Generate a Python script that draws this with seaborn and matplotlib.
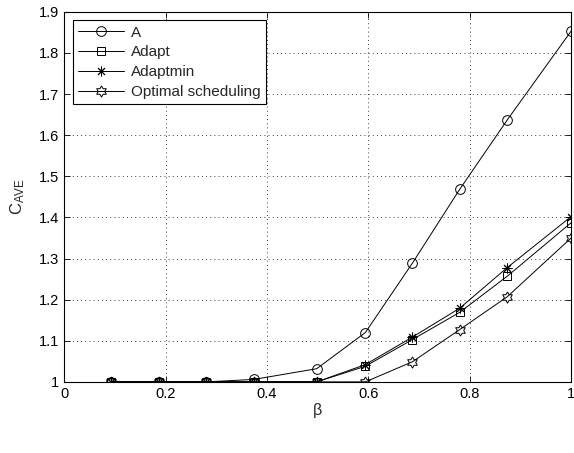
import numpy as np
import pandas as pd
import matplotlib
matplotlib.use("Agg")
import matplotlib.pyplot as plt
import seaborn as sns

beta = [0.093, 0.187, 0.28, 0.374, 0.498, 0.594, 0.687, 0.78, 0.874, 1.0]
series_names = ["A", "Adapt", "Adaptmin", "Optimal scheduling"]
vals_A = [1.0, 1.0, 1.0, 1.006, 1.032, 1.12, 1.289, 1.468, 1.637, 1.853]
vals_adapt = [1.0, 1.0, 1.0, 1.0, 1.0, 1.038, 1.103, 1.169, 1.257, 1.387]
vals_adaptmin = [1.0, 1.0, 1.0, 1.0, 1.0, 1.042, 1.109, 1.179, 1.278, 1.402]
vals_opt = [1.0, 1.0, 1.0, 1.0, 1.0, 1.0, 1.049, 1.127, 1.207, 1.35]
xticks = [0, 0.2, 0.4, 0.6, 0.8, 1]
yticks = [1, 1.1, 1.2, 1.3, 1.4, 1.5, 1.6, 1.7, 1.8, 1.9]

rows = []
for name, vals in zip(series_names, [vals_A, vals_adapt, vals_adaptmin, vals_opt]):
    for x, y in zip(beta, vals):
        rows.append({"beta": x, "C": y, "series": name})
df = pd.DataFrame(rows)

sns.set_style("white")
plt.rcParams["font.family"] = ["Liberation Sans", "DejaVu Sans"]
plt.rcParams["mathtext.fontset"] = "custom"
plt.rcParams["mathtext.rm"] = "Liberation Sans"
plt.rcParams["mathtext.it"] = "Liberation Sans"

# hexagram marker
ang = np.linspace(0, 2 * np.pi, 13)[:-1] + np.pi / 2
rad = np.where(np.arange(12) % 2 == 0, 1.0, 1 / np.sqrt(3))
hexagram = list(zip(rad * np.cos(ang), rad * np.sin(ang)))
hexagram.append(hexagram[0])

markers = {"A": "o", "Adapt": "s", "Adaptmin": (8, 2, 0), "Optimal scheduling": hexagram}
msizes = {"A": 7, "Adapt": 5.5, "Adaptmin": 7, "Optimal scheduling": 8}

fig = plt.figure(figsize=(5.74, 4.53), dpi=100)
ax = fig.add_axes([0.112, 0.157, 0.883, 0.817])

for name in series_names:
    sub = df[df["series"] == name]
    sns.lineplot(data=sub, x="beta", y="C", ax=ax, color="black", lw=0.7,
                 marker=markers[name], markersize=msizes[name],
                 markerfacecolor="none", markeredgecolor="black",
                 markeredgewidth=0.7, label=name, sort=False)

ax.set_xlim(0, 1)
ax.set_ylim(1, 1.9)
ax.set_xticks(xticks)
ax.set_xticklabels(["0", "0.2", "0.4", "0.6", "0.8", "1"])
ax.set_yticks(yticks)
ax.set_yticklabels(["1", "1.1", "1.2", "1.3", "1.4", "1.5", "1.6", "1.7", "1.8", "1.9"])
ax.tick_params(direction="in", length=4, width=0.6, labelsize=10.5, colors="black",
               top=True, right=True, bottom=True, left=True, pad=4)
ax.grid(True, linestyle=(0, (1, 4)), color="black", linewidth=0.6)
for s in ax.spines.values():
    s.set_color("black")
    s.set_linewidth(0.8)
ax.set_xlabel("β", fontsize=11.5, labelpad=1)
ax.set_ylabel(r"C$_{\mathrm{AVE}}$", fontsize=12, labelpad=8)

h, l = ax.get_legend_handles_labels()
leg = ax.legend(h, l, loc="upper left", fontsize=11, frameon=True, fancybox=False,
                edgecolor="black", framealpha=1, handlelength=3.0,
                borderaxespad=0.55, labelspacing=0.38, borderpad=0.35, handletextpad=0.45)
leg.get_frame().set_linewidth(0.8)

fig.savefig("out.png", dpi=100)
